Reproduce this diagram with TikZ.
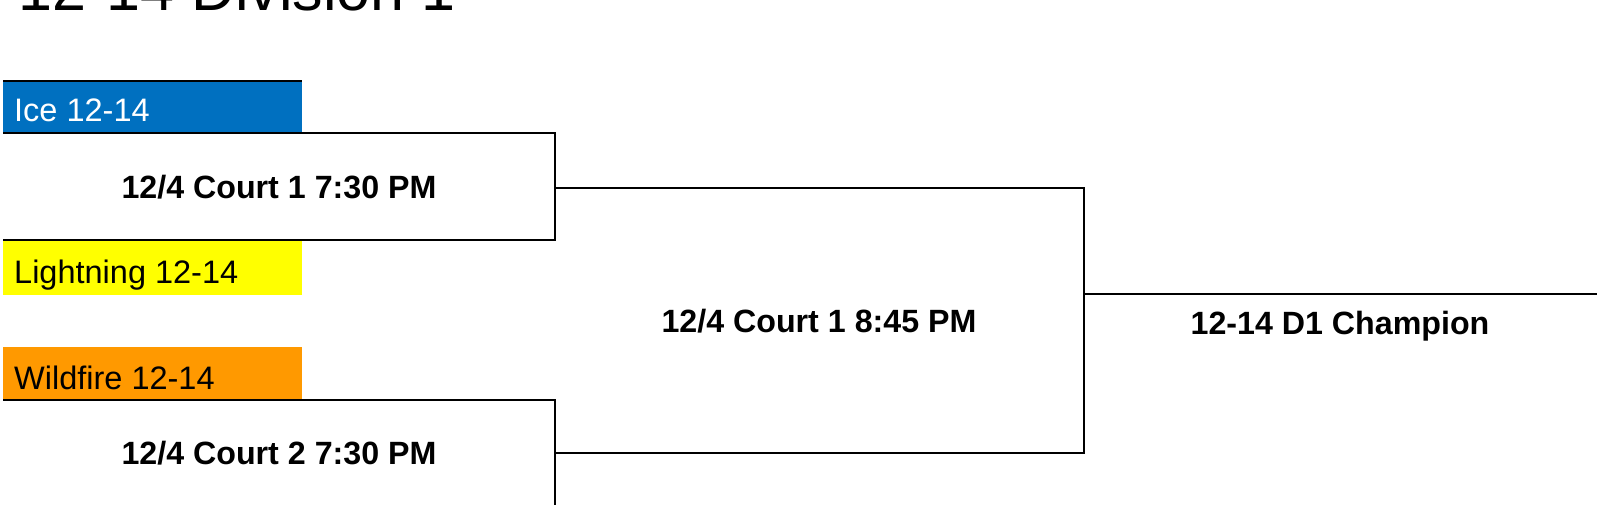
\documentclass[tikz,border=0pt]{standalone}
\usepackage{fontspec}
\setmainfont{Liberation Sans}
\definecolor{iceblue}{HTML}{0070C0}
\definecolor{lightyellow}{HTML}{FFFF00}
\definecolor{wildorange}{HTML}{FF9900}
\tikzset{
  teambox/.style={draw=none, rectangle, anchor=north west, minimum width=299pt, inner sep=0pt, outer sep=0pt},
  teamtext/.style={anchor=base west, inner sep=0pt, font=\fontsize{32.5}{38}\selectfont},
  matchtext/.style={anchor=base, inner sep=0pt, font=\fontsize{32.2}{38}\selectfont\bfseries},
  bracket/.style={line width=2.2pt, draw=black},
}
\begin{document}
\begin{tikzpicture}[x=1pt,y=-1pt]
\useasboundingbox (0,0) rectangle (1600,505);
\clip (0,0) rectangle (1600,505);
% title
\node[anchor=base west, inner sep=0pt, font=\fontsize{61}{70}\selectfont] (title) at (18,11) {12-14 Division 1};
% team boxes
\node[teambox, fill=iceblue, minimum height=52pt] (ice) at (3,81) {};
\node[teambox, fill=lightyellow, minimum height=55pt] (light) at (3,240) {};
\node[teambox, fill=wildorange, minimum height=53pt] (wild) at (3,347) {};
\node[teamtext, text=white] (icet) at (14,122) {Ice 12-14};
\node[teamtext] (lightt) at (14,283) {Lightning 12-14};
\node[teamtext] (wildt) at (14,389) {Wildfire 12-14};
% bracket coordinates
\coordinate (m1a) at (555,133);
\coordinate (m1b) at (555,240);
\coordinate (m1o) at (555,188);
\coordinate (m2a) at (555,400);
\coordinate (m2b) at (555,510);
\coordinate (m2o) at (555,453);
\coordinate (fa) at (1084,188);
\coordinate (fb) at (1084,453);
\coordinate (fo) at (1084,294);
\coordinate (champ) at (1597,294);
\coordinate (icetop) at (302,81);
% lines
\draw[bracket] (ice.north west) -- (icetop);
\draw[bracket] (ice.south west) -- (m1a) -- (m1b) -- (light.north west);
\draw[bracket] (wild.south west) -- (m2a) -- (m2b);
\draw[bracket] (m1o) -- (fa) -- (fb) -- (m2o);
\draw[bracket] (fo) -- (champ);
% match labels
\node[matchtext] (m1t) at (279,199) {12/4 Court 1 7:30 PM};
\node[matchtext] (m2t) at (279,464) {12/4 Court 2 7:30 PM};
\node[matchtext] (ft) at (819,332) {12/4 Court 1 8:45 PM};
\node[matchtext] (ct) at (1340,334) {12-14 D1 Champion};
\end{tikzpicture}
\end{document}
